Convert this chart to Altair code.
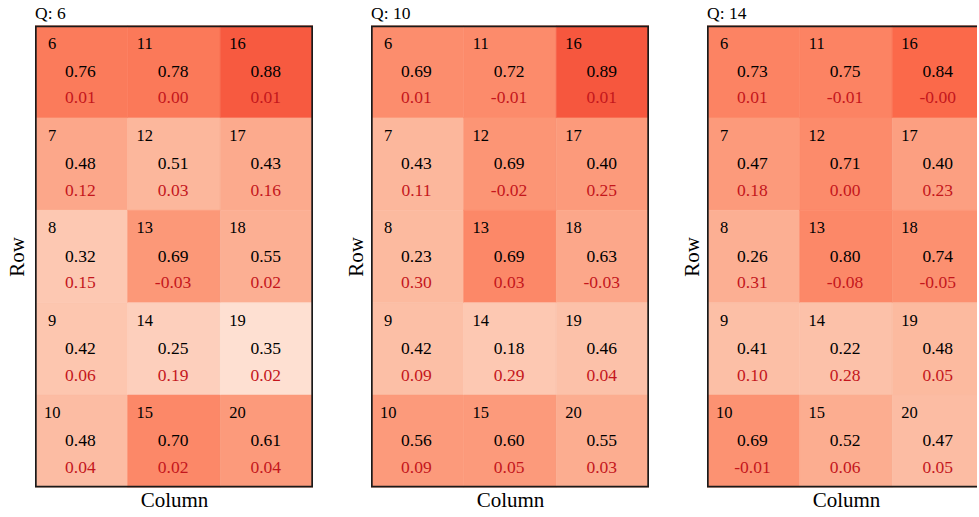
import altair as alt
import pandas as pd

# cell ids, laid out column-wise: column 0 -> 6..10, column 1 -> 11..15, column 2 -> 16..20
cells = list(range(6, 21))
panel_titles = ["Q: 6", "Q: 10", "Q: 14"]

# main values (black) per cell 6..20
vals_q6 = [0.76, 0.48, 0.32, 0.42, 0.48, 0.78, 0.51, 0.69, 0.25, 0.70, 0.88, 0.43, 0.55, 0.35, 0.61]
vals_q10 = [0.69, 0.43, 0.23, 0.42, 0.56, 0.72, 0.69, 0.69, 0.18, 0.60, 0.89, 0.40, 0.63, 0.46, 0.55]
vals_q14 = [0.73, 0.47, 0.26, 0.41, 0.69, 0.75, 0.71, 0.80, 0.22, 0.52, 0.84, 0.40, 0.74, 0.48, 0.47]

# differences (red) per cell 6..20
diff_q6 = [0.01, 0.12, 0.15, 0.06, 0.04, 0.00, 0.03, -0.03, 0.19, 0.02, 0.01, 0.16, 0.02, 0.02, 0.04]
diff_q10 = [0.01, 0.11, 0.30, 0.09, 0.09, -0.01, -0.02, 0.03, 0.29, 0.05, 0.01, 0.25, -0.03, 0.04, 0.03]
diff_q14 = [0.01, 0.18, 0.31, 0.10, -0.01, -0.01, 0.00, -0.08, 0.28, 0.06, -0.0, 0.23, -0.05, 0.05, 0.05]

# colour map (ColorBrewer Reds stops)
color_stops = [0.2125, 0.3688, 0.525, 0.681, 0.8375, 0.994]
color_range = ["#fff5f0", "#fee0d2", "#fcbba1", "#fc9272", "#fb6a4a", "#ef3b2c"]

FONT = "Liberation Serif"
RED_TEXT = "#c4161c"
FRAME = "#1a1a1a"


def panel(title, vals, diffs, width, x_max, row_pad):
    df = pd.DataFrame({"cell": cells, "value": vals, "diff": diffs})
    df["col"] = [(c - 6) // 5 for c in cells]
    df["row"] = [(c - 6) % 5 for c in cells]
    df["value_txt"] = [f"{v:.2f}" for v in vals]
    df["diff_txt"] = [f"{d:.2f}" for d in diffs]
    df["cell_txt"] = [str(c) for c in cells]

    base = alt.Chart(df).transform_calculate(
        x0="datum.col", x1="datum.col + 1",
        y0="datum.row", y1="datum.row + 1",
        xc="datum.col + 0.49",
        xn="datum.col + 0.185",
        yn="datum.row + 0.195",
        yv="datum.row + 0.50",
        yd="datum.row + 0.79",
        score="datum.value + datum.diff",
    )
    xs = alt.Scale(domain=[0, x_max], nice=False, zero=False)
    ys = alt.Scale(domain=[0, 5], nice=False, zero=False, reverse=True)
    xaxis = alt.Axis(title="Column", labels=False, ticks=False, domain=False, grid=False,
                     titlePadding=1.5, titleX=139)
    yaxis = alt.Axis(title="Row", labels=False, ticks=False, domain=False, grid=False,
                     titlePadding=row_pad)
    cscale = alt.Scale(domain=color_stops, range=color_range, interpolate="rgb")

    rect = base.mark_rect(strokeWidth=0.6, clip=True).encode(
        x=alt.X("x0:Q", scale=xs, axis=xaxis),
        x2="x1:Q",
        y=alt.Y("y0:Q", scale=ys, axis=yaxis),
        y2="y1:Q",
        color=alt.Color("score:Q", scale=cscale, legend=None),
        stroke=alt.Stroke("score:Q", scale=cscale, legend=None),
    )
    frame = base.transform_aggregate(
        fx0="min(x0)", fx1="max(x1)", fy0="min(y0)", fy1="max(y1)"
    ).mark_rect(fill=None, stroke=FRAME, strokeWidth=3.4, clip=True).encode(
        x=alt.X("fx0:Q", scale=xs), x2="fx1:Q",
        y=alt.Y("fy0:Q", scale=ys), y2="fy1:Q",
    )
    num = base.mark_text(font=FONT, fontSize=16.5, color="black", baseline="middle", align="center", clip=True).encode(
        x=alt.X("xn:Q", scale=xs), y=alt.Y("yn:Q", scale=ys), text="cell_txt:N"
    )
    val = base.mark_text(font=FONT, fontSize=17.5, color="black", baseline="middle", align="center", clip=True).encode(
        x=alt.X("xc:Q", scale=xs), y=alt.Y("yv:Q", scale=ys), text="value_txt:N"
    )
    dif = base.mark_text(font=FONT, fontSize=17.5, color=RED_TEXT, baseline="middle", align="center", clip=True).encode(
        x=alt.X("xc:Q", scale=xs), y=alt.Y("yd:Q", scale=ys), text="diff_txt:N"
    )
    return alt.layer(rect, num, val, dif, frame).properties(
        width=width,
        height=462,
        title=alt.TitleParams(title, anchor="start", frame="group", font=FONT, fontSize=17.5,
                              fontWeight="normal", offset=3, color="black"),
    )


W = 278
W3 = 270
chart = alt.hconcat(
    panel(panel_titles[0], vals_q6, diff_q6, W, 3, 8),
    panel(panel_titles[1], vals_q10, diff_q10, W, 3, 5),
    panel(panel_titles[2], vals_q14, diff_q14, W3, 3 * W3 / W, 5),
    spacing=32,
).properties(
    padding={"left": 6, "top": 4.5, "right": 0, "bottom": 0}
).configure_view(
    stroke=None
).configure_axis(
    titleFont=FONT, titleFontSize=21, titleFontWeight="normal", titleColor="black"
)

chart.save("out.html", embed_options={"renderer": "svg", "actions": False})
